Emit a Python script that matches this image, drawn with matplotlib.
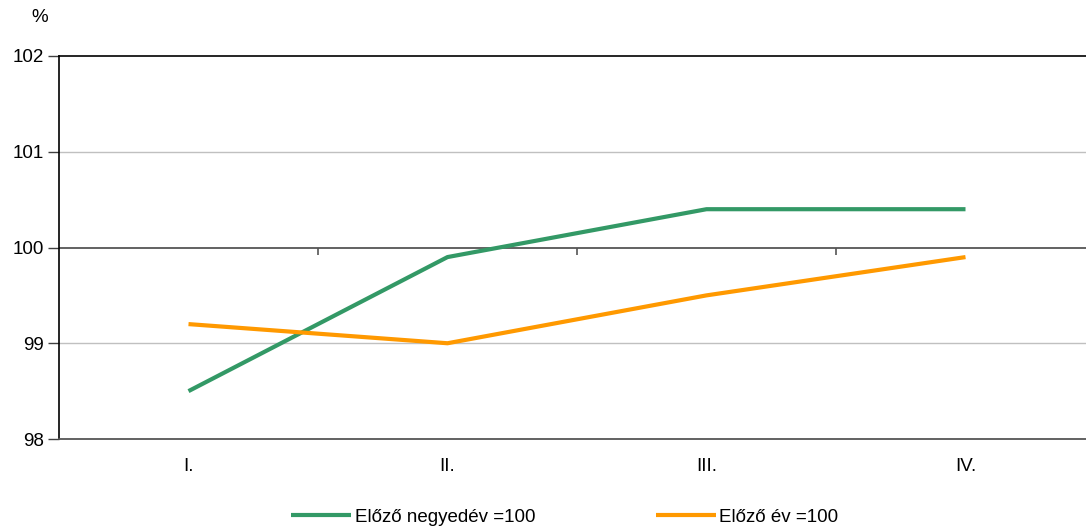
import matplotlib
matplotlib.use("Agg")
from matplotlib import pyplot as plt

# quarter labels and index values (%)
quarters = ['I.', 'II.', 'III.', 'IV.']
prev_quarter = [98.5, 99.9, 100.4, 100.4]
prev_year = [99.2, 99.0, 99.5, 99.9]
labels = ['Előző negyedév =100', 'Előző év =100']

plt.rcParams['font.family'] = ['Liberation Sans', 'DejaVu Sans']
fs = 13.5

fig = plt.figure(figsize=(10.86, 5.27), dpi=100)
ax = fig.add_axes([59 / 1086, 88 / 527, 1036 / 1086, 383 / 527])

x = list(range(len(quarters)))
ax.plot(x, prev_quarter, color='#339966', lw=3, label=labels[0], solid_capstyle='butt')
ax.plot(x, prev_year, color='#FF9900', lw=3, label=labels[1], solid_capstyle='butt')

ax.set_xlim(-0.5, len(quarters) - 0.5)
ax.set_ylim(98, 102)
ax.set_yticks([98, 99, 100, 101, 102])
ax.set_yticklabels(['98', '99', '100', '101', '102'], fontsize=fs)
ax.set_xticks(x)
ax.set_xticklabels(quarters, fontsize=fs)
ax.tick_params(axis='x', length=0, pad=14)
ax.tick_params(axis='y', length=8, width=1, color='#404040', pad=3)

for yv in [99, 101]:
    ax.axhline(yv, color='#c0c0c0', lw=1, zorder=0)
ax.axhline(100, color='#555555', lw=1.3, zorder=1)
# category separators hanging from the 100 line
ax.vlines([i + 0.5 for i in x], 100 - 0.075, 100, color='#555555', lw=1.2, zorder=1)

ax.spines['right'].set_visible(False)
ax.spines['left'].set_color('black')
ax.spines['left'].set_linewidth(1.2)
ax.spines['top'].set_color('black')
ax.spines['top'].set_linewidth(1.2)
ax.spines['bottom'].set_color('#555555')
ax.spines['bottom'].set_linewidth(1.3)

fig.text(40 / 1086, 1 - 18 / 527, '%', fontsize=fs, ha='center', va='center')

ax.legend(loc='center', bbox_to_anchor=(565 / 1086, 1 - 517 / 527), bbox_transform=fig.transFigure,
          ncol=2, frameon=False, fontsize=fs, handlelength=3.2, handletextpad=0.2,
          columnspacing=6.4, borderpad=0)

fig.savefig('out.png', dpi=100)
